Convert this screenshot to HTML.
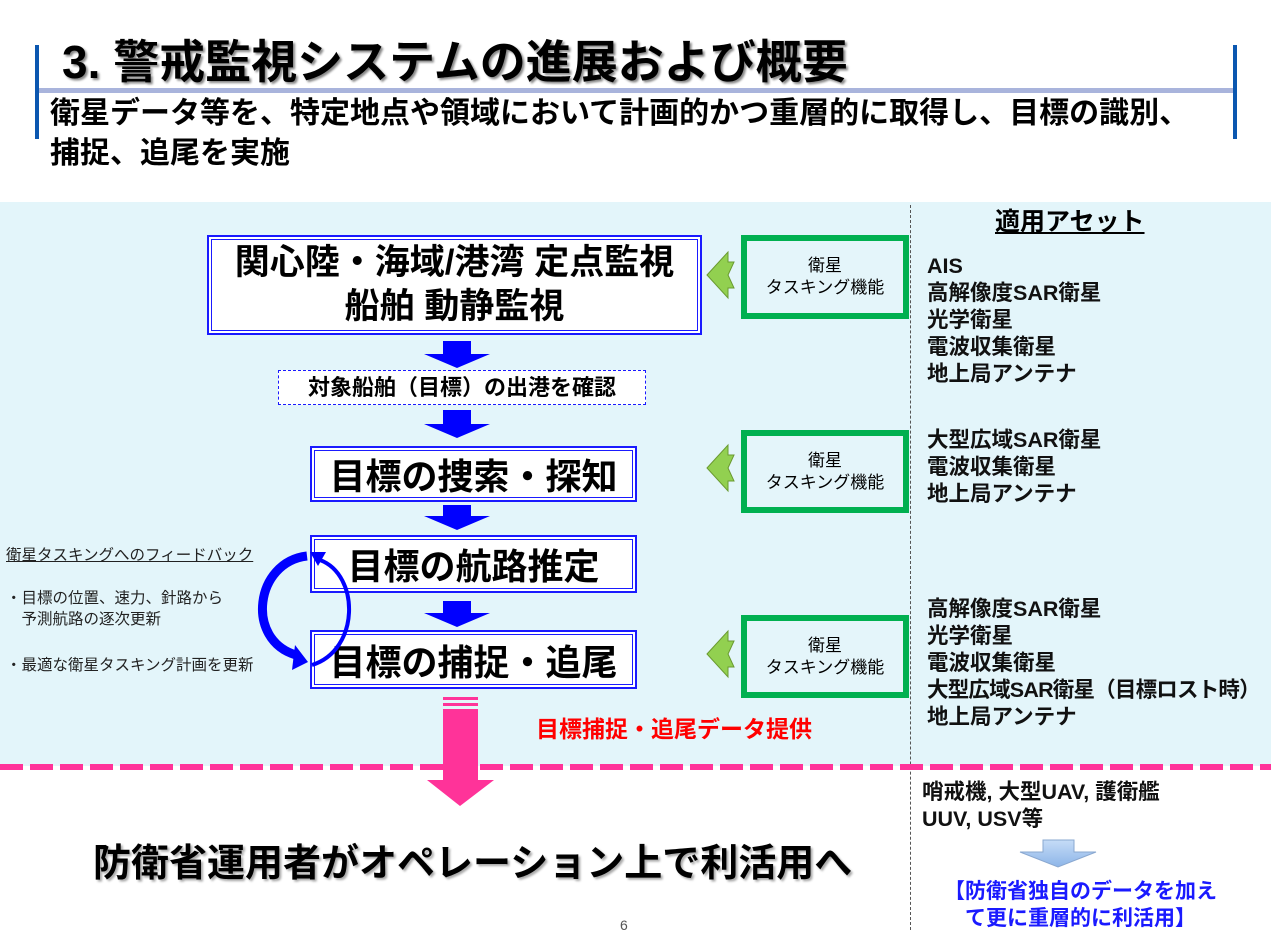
<!DOCTYPE html>
<html><head><meta charset="utf-8"><style>
body{margin:0;width:1271px;height:946px;position:relative;background:#fff;overflow:hidden;font-family:"Liberation Sans","Noto Sans CJK JP",sans-serif;color:#000}
.a{position:absolute}
.box{position:absolute;border:2px solid #1a1aff;background:#fff;box-shadow:inset 0 0 0 2px #fff,inset 0 0 0 3px #1a1aff;display:flex;align-items:center;justify-content:center;text-align:center;font-weight:bold}
.g{position:absolute;border:6px solid #00b050;box-sizing:border-box;display:flex;align-items:center;justify-content:center;text-align:center;font-size:17px;line-height:22px;background:#e4f5fa}
.lst{position:absolute;font-size:21.5px;line-height:27px;font-weight:bold;color:#111;white-space:nowrap}
</style></head><body>
<div class="a" style="left:0;top:202px;width:1271px;height:564px;background:#e3f5fa"></div>
<div class="a" style="left:35px;top:45px;width:4px;height:94px;background:#0b57b0"></div>
<div class="a" style="left:1233px;top:45px;width:4px;height:94px;background:#0b57b0"></div>
<div class="a" style="left:39px;top:88px;width:1194px;height:5px;background:#a9b4dc"></div>
<div class="a" style="left:62px;top:26px;font-size:46px;font-weight:bold;text-shadow:2px 2px 2px #888;white-space:nowrap">3. 警戒監視システムの進展および概要</div>
<div class="a" style="left:50px;top:94px;font-size:30px;line-height:40px;font-weight:bold;width:1200px;white-space:nowrap">衛星データ等を、特定地点や領域において計画的かつ重層的に取得し、目標の識別、<br>捕捉、追尾を実施</div>

<div class="a" style="left:910px;top:205px;height:725px;border-left:1.5px dashed #555"></div>
<div class="a" style="left:995px;top:202px;font-size:25px;font-weight:bold;text-decoration:underline">適用アセット</div>

<div class="box" style="left:207px;top:235px;width:491px;height:96px;font-size:35px;line-height:44px">関心陸・海域/港湾 定点監視<br>船舶 動静監視</div>
<div class="a" style="left:278px;top:370px;width:366px;height:33px;border:1.5px dashed #1a1aff;background:#fff;font-size:22px;font-weight:bold;text-align:center;line-height:33px">対象船舶（目標）の出港を確認</div>
<div class="box" style="left:310px;top:446px;width:323px;height:52px;font-size:36px">目標の捜索・探知</div>
<div class="box" style="left:310px;top:535px;width:323px;height:54px;font-size:36px">目標の航路推定</div>
<div class="box" style="left:310px;top:630px;width:323px;height:55px;font-size:36px">目標の捕捉・追尾</div>

<svg class="a" style="left:0;top:0" width="1271" height="946">
<g fill="#0000ff">
<polygon points="443,341 471,341 471,354 490,354 457,368 424,354 443,354"/>
<polygon points="443,410 471,410 471,424 490,424 457,438 424,424 443,424"/>
<polygon points="443,505 471,505 471,516 490,516 457,530 424,516 443,516"/>
<polygon points="443,601 471,601 471,613 490,613 457,627 424,613 443,613"/>
</g>
<path d="M307,556 C255,562 245,640 296,655" fill="none" stroke="#0000ff" stroke-width="9"/>
<polygon points="295,645 308,662 292,670" fill="#0000ff"/>
<path d="M312,665 C360,650 360,575 320,560" fill="none" stroke="#0000ff" stroke-width="4"/>
<polygon points="310,552 326,552 318,566" fill="#0000ff"/>
<g fill="#92d050" stroke="#6a9a30" stroke-width="1">
<polygon points="707,275 728,252 728,262 734,262 728,275 734,288 728,288 728,298"/>
<polygon points="707,468 728,445 728,455 734,455 728,468 734,481 728,481 728,491"/>
<polygon points="707,654 728,631 728,641 734,641 728,654 734,667 728,667 728,677"/>
</g>
<g fill="#ff3399">
<rect x="443" y="697" width="35" height="3"/><rect x="443" y="703" width="35" height="3"/>
<polygon points="443,709 478,709 478,780 494,780 460,806 427,780 443,780"/>
</g>
<line x1="0" y1="767" x2="1271" y2="767" stroke="#ff3399" stroke-width="6" stroke-dasharray="23,7"/>
<defs><linearGradient id="lb" x1="0" y1="0" x2="0" y2="1"><stop offset="0" stop-color="#c5dcf7"/><stop offset="1" stop-color="#8db5e8"/></linearGradient></defs>
<polygon points="1043,840 1074,840 1074,852 1096,852 1058,867 1020,852 1043,852" fill="url(#lb)" stroke="#8aa8d0"/>
</svg>

<div class="g" style="left:741px;top:235px;width:168px;height:84px">衛星<br>タスキング機能</div>
<div class="g" style="left:741px;top:430px;width:168px;height:83px">衛星<br>タスキング機能</div>
<div class="g" style="left:741px;top:615px;width:168px;height:83px">衛星<br>タスキング機能</div>

<div class="lst" style="left:927px;top:253px">AIS<br>高解像度SAR衛星<br>光学衛星<br>電波収集衛星<br>地上局アンテナ</div>
<div class="lst" style="left:927px;top:427px">大型広域SAR衛星<br>電波収集衛星<br>地上局アンテナ</div>
<div class="lst" style="left:927px;top:596px">高解像度SAR衛星<br>光学衛星<br>電波収集衛星<br><span style="letter-spacing:-0.8px">大型広域SAR衛星（目標ロスト時）</span><br>地上局アンテナ</div>
<div class="lst" style="left:922px;top:779px">哨戒機, 大型UAV, 護衛艦<br>UUV, USV等</div>
<div class="a" style="left:944px;top:878px;font-size:21px;line-height:27px;font-weight:bold;color:#1a1aff;white-space:nowrap">【防衛省独自のデータを加え<br>　て更に重層的に利活用】</div>

<div class="a" style="left:6px;top:543px;font-size:15.5px;color:#222;text-decoration:underline">衛星タスキングへのフィードバック</div>
<div class="a" style="left:6px;top:588px;font-size:15.5px;line-height:21px;color:#222">・目標の位置、速力、針路から<br>　予測航路の逐次更新</div>
<div class="a" style="left:6px;top:653px;font-size:15.5px;color:#222">・最適な衛星タスキング計画を更新</div>
<div class="a" style="left:536px;top:710px;font-size:23px;font-weight:bold;color:#ff0000">目標捕捉・追尾データ提供</div>
<div class="a" style="left:93px;top:832px;font-size:38px;font-weight:bold;text-shadow:2px 2px 2px #aaa;white-space:nowrap">防衛省運用者がオペレーション上で利活用へ</div>
<div class="a" style="left:620px;top:917px;font-size:14px;color:#555">6</div>
</body></html>
